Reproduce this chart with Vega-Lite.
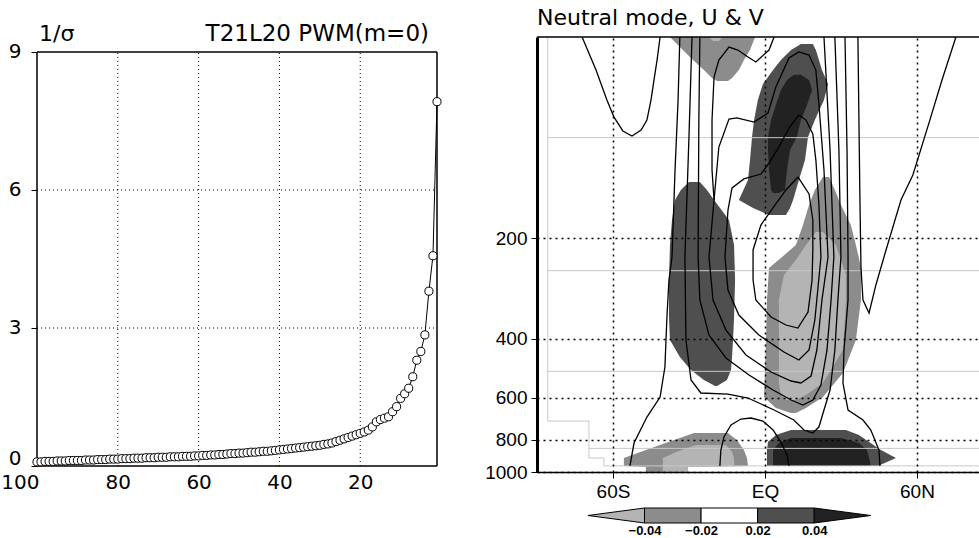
{
"$schema": "https://vega.github.io/schema/vega-lite/v6.json",
"background": "white",
"padding": {"left": 0, "top": 7, "right": 0, "bottom": 0},
"config": {"view": {"stroke": null}, "font": "DejaVu Sans"},
"datasets": {
"sigma": [
{"n":100,"v":0.09},{"n":99,"v":0.09},{"n":98,"v":0.10},{"n":97,"v":0.10},{"n":96,"v":0.10},{"n":95,"v":0.11},{"n":94,"v":0.11},{"n":93,"v":0.11},{"n":92,"v":0.12},{"n":91,"v":0.12},
{"n":90,"v":0.12},{"n":89,"v":0.12},{"n":88,"v":0.13},{"n":87,"v":0.13},{"n":86,"v":0.13},{"n":85,"v":0.14},{"n":84,"v":0.14},{"n":83,"v":0.14},{"n":82,"v":0.15},{"n":81,"v":0.15},
{"n":80,"v":0.15},{"n":79,"v":0.16},{"n":78,"v":0.16},{"n":77,"v":0.16},{"n":76,"v":0.17},{"n":75,"v":0.17},{"n":74,"v":0.17},{"n":73,"v":0.18},{"n":72,"v":0.18},{"n":71,"v":0.18},
{"n":70,"v":0.19},{"n":69,"v":0.19},{"n":68,"v":0.19},{"n":67,"v":0.20},{"n":66,"v":0.20},{"n":65,"v":0.20},{"n":64,"v":0.21},{"n":63,"v":0.21},{"n":62,"v":0.21},{"n":61,"v":0.22},
{"n":60,"v":0.22},{"n":59,"v":0.23},{"n":58,"v":0.23},{"n":57,"v":0.24},{"n":56,"v":0.24},{"n":55,"v":0.25},{"n":54,"v":0.25},{"n":53,"v":0.26},{"n":52,"v":0.27},{"n":51,"v":0.27},
{"n":50,"v":0.28},{"n":49,"v":0.28},{"n":48,"v":0.29},{"n":47,"v":0.30},{"n":46,"v":0.30},{"n":45,"v":0.31},{"n":44,"v":0.32},{"n":43,"v":0.32},{"n":42,"v":0.33},{"n":41,"v":0.34},
{"n":40,"v":0.35},{"n":39,"v":0.36},{"n":38,"v":0.37},{"n":37,"v":0.38},{"n":36,"v":0.39},{"n":35,"v":0.40},{"n":34,"v":0.41},{"n":33,"v":0.42},{"n":32,"v":0.43},{"n":31,"v":0.44},
{"n":30,"v":0.45},{"n":29,"v":0.47},{"n":28,"v":0.48},{"n":27,"v":0.50},{"n":26,"v":0.53},{"n":25,"v":0.56},{"n":24,"v":0.59},{"n":23,"v":0.62},{"n":22,"v":0.65},{"n":21,"v":0.68},
{"n":20,"v":0.71},{"n":19,"v":0.74},{"n":18,"v":0.78},{"n":17,"v":0.85},{"n":16,"v":0.96},{"n":15,"v":1.01},{"n":14,"v":1.04},{"n":13,"v":1.07},{"n":12,"v":1.18},{"n":11,"v":1.29},
{"n":10,"v":1.47},{"n":9,"v":1.57},{"n":8,"v":1.69},{"n":7,"v":1.94},{"n":6,"v":2.30},{"n":5,"v":2.49},{"n":4,"v":2.85},{"n":3,"v":3.80},{"n":2,"v":4.57},{"n":1,"v":7.92}
],
"leftgrid": [
{"n":80,"n2":80,"v":0,"v2":9},{"n":60,"n2":60,"v":0,"v2":9},{"n":40,"n2":40,"v":0,"v2":9},{"n":20,"n2":20,"v":0,"v2":9},
{"n":100,"n2":1,"v":3,"v2":3},{"n":100,"n2":1,"v":6,"v2":6}
],
"leftframe": [
{"n":100,"n2":1,"v":9,"v2":9},{"n":100,"n2":1,"v":0,"v2":0},{"n":100,"n2":100,"v":0,"v2":9},{"n":1,"n2":1,"v":0,"v2":9}
],
"blobs": [
{"blob":"A2","shade":"s2","p":50,"lat":-37.5,"lat2":-3.9},{"blob":"A2","shade":"s2","p":54.7,"lat":-32.4,"lat2":-5.9},{"blob":"A2","shade":"s2","p":58.6,"lat":-28.4,"lat2":-8.3},{"blob":"A2","shade":"s2","p":62.8,"lat":-24.1,"lat2":-10.3},{"blob":"A2","shade":"s2","p":66.3,"lat":-20.9,"lat2":-13.0},{"blob":"A2","shade":"s2","p":67.7,"lat":-18.9,"lat2":-14.6},
{"blob":"A1","shade":"s1","p":50,"lat":-22.1,"lat2":-16.6},{"blob":"A1","shade":"s1","p":51.4,"lat":-20.5,"lat2":-18.2},
{"blob":"B3","shade":"s3","p":52.5,"lat":14.2,"lat2":18.9},{"blob":"B3","shade":"s3","p":54.7,"lat":10.3,"lat2":20.1},{"blob":"B3","shade":"s3","p":58.6,"lat":6.3,"lat2":21.3},{"blob":"B3","shade":"s3","p":62.8,"lat":3.2,"lat2":22.5},{"blob":"B3","shade":"s3","p":69.1,"lat":-0.8,"lat2":24.9},{"blob":"B3","shade":"s3","p":77.2,"lat":-2.8,"lat2":23.3},{"blob":"B3","shade":"s3","p":88.6,"lat":-4.3,"lat2":19.7},{"blob":"B3","shade":"s3","p":99.5,"lat":-5.1,"lat2":17.0},{"blob":"B3","shade":"s3","p":116.7,"lat":-5.9,"lat2":15.8},{"blob":"B3","shade":"s3","p":133.9,"lat":-6.7,"lat2":13.4},{"blob":"B3","shade":"s3","p":153.6,"lat":-10.3,"lat2":11.1},{"blob":"B3","shade":"s3","p":162.3,"lat":-4.7,"lat2":9.9},{"blob":"B3","shade":"s3","p":170.3,"lat":1.6,"lat2":8.3},
{"blob":"C4","shade":"s4","p":64.9,"lat":11.4,"lat2":14.2},{"blob":"C4","shade":"s4","p":67.2,"lat":8.7,"lat2":17.4},{"blob":"C4","shade":"s4","p":72.0,"lat":6.3,"lat2":18.6},{"blob":"C4","shade":"s4","p":79.8,"lat":4.3,"lat2":16.6},{"blob":"C4","shade":"s4","p":88.6,"lat":2.4,"lat2":14.2},{"blob":"C4","shade":"s4","p":99.5,"lat":1.2,"lat2":12.6},{"blob":"C4","shade":"s4","p":108.9,"lat":1.2,"lat2":9.9},{"blob":"C4","shade":"s4","p":125.0,"lat":1.6,"lat2":8.7},{"blob":"C4","shade":"s4","p":143.4,"lat":2.4,"lat2":7.9},{"blob":"C4","shade":"s4","p":146.4,"lat":3.2,"lat2":5.5},
{"blob":"D3","shade":"s3","p":135.7,"lat":-30.0,"lat2":-25.7},{"blob":"D3","shade":"s3","p":143.4,"lat":-33.2,"lat2":-22.9},{"blob":"D3","shade":"s3","p":153.6,"lat":-35.5,"lat2":-20.1},{"blob":"D3","shade":"s3","p":176.3,"lat":-36.7,"lat2":-14.2},{"blob":"D3","shade":"s3","p":209.4,"lat":-37.5,"lat2":-12.2},{"blob":"D3","shade":"s3","p":266.6,"lat":-37.9,"lat2":-11.8},{"blob":"D3","shade":"s3","p":343.9,"lat":-37.9,"lat2":-12.2},{"blob":"D3","shade":"s3","p":402.9,"lat":-37.5,"lat2":-12.6},{"blob":"D3","shade":"s3","p":452.9,"lat":-33.6,"lat2":-13.0},{"blob":"D3","shade":"s3","p":495.4,"lat":-29.2,"lat2":-13.4},{"blob":"D3","shade":"s3","p":530.7,"lat":-24.1,"lat2":-15.0},{"blob":"D3","shade":"s3","p":553.2,"lat":-19.7,"lat2":-18.9},
{"blob":"E2","shade":"s2","p":131.1,"lat":22.9,"lat2":25.3},{"blob":"E2","shade":"s2","p":143.4,"lat":19.7,"lat2":27.6},{"blob":"E2","shade":"s2","p":159.0,"lat":17.4,"lat2":30.0},{"blob":"E2","shade":"s2","p":182.5,"lat":15.0,"lat2":33.9},{"blob":"E2","shade":"s2","p":209.4,"lat":12.2,"lat2":35.9},{"blob":"E2","shade":"s2","p":229.1,"lat":6.3,"lat2":37.1},{"blob":"E2","shade":"s2","p":245.4,"lat":1.6,"lat2":37.9},{"blob":"E2","shade":"s2","p":305.9,"lat":0.8,"lat2":37.9},{"blob":"E2","shade":"s2","p":402.9,"lat":0.4,"lat2":35.9},{"blob":"E2","shade":"s2","p":505.8,"lat":0.0,"lat2":30.8},{"blob":"E2","shade":"s2","p":596.7,"lat":-0.4,"lat2":22.9},{"blob":"E2","shade":"s2","p":643.6,"lat":4.3,"lat2":16.2},{"blob":"E2","shade":"s2","p":666.2,"lat":10.3,"lat2":12.2},
{"blob":"F1","shade":"s1","p":191.5,"lat":20.1,"lat2":22.9},{"blob":"F1","shade":"s1","p":209.4,"lat":16.2,"lat2":28.0},{"blob":"F1","shade":"s1","p":232.2,"lat":12.2,"lat2":30.0},{"blob":"F1","shade":"s1","p":257.5,"lat":7.5,"lat2":32.0},{"blob":"F1","shade":"s1","p":305.9,"lat":5.5,"lat2":32.0},{"blob":"F1","shade":"s1","p":431.5,"lat":5.5,"lat2":30.8},{"blob":"F1","shade":"s1","p":541.8,"lat":5.5,"lat2":22.9},{"blob":"F1","shade":"s1","p":588.5,"lat":6.3,"lat2":16.2},{"blob":"F1","shade":"s1","p":609.1,"lat":8.3,"lat2":12.2},
{"blob":"G2","shade":"s2","p":764.6,"lat":-28.0,"lat2":-14.6},{"blob":"G2","shade":"s2","p":802.3,"lat":-35.9,"lat2":-11.1},{"blob":"G2","shade":"s2","p":859.7,"lat":-47.0,"lat2":-8.3},{"blob":"G2","shade":"s2","p":907.8,"lat":-55.7,"lat2":-7.1},{"blob":"G2","shade":"s2","p":959.2,"lat":-55.7,"lat2":-6.7},{"blob":"G2","shade":"s2","p":965.9,"lat":-47.0,"lat2":-30.4},{"blob":"G2","shade":"s2","p":1000,"lat":-47.0,"lat2":-30.4},
{"blob":"H1","shade":"s1","p":830.5,"lat":-27.2,"lat2":-15.4},{"blob":"H1","shade":"s1","p":871.6,"lat":-35.1,"lat2":-13.0},{"blob":"H1","shade":"s1","p":907.8,"lat":-40.3,"lat2":-12.2},{"blob":"H1","shade":"s1","p":959.2,"lat":-40.3,"lat2":-12.2},{"blob":"H1","shade":"s1","p":965.9,"lat":-40.3,"lat2":-30.4},{"blob":"H1","shade":"s1","p":1000,"lat":-40.3,"lat2":-30.4},
{"blob":"I3","shade":"s3","p":748.9,"lat":10.3,"lat2":32.0},{"blob":"I3","shade":"s3","p":775.2,"lat":4.3,"lat2":37.1},{"blob":"I3","shade":"s3","p":813.5,"lat":1.2,"lat2":41.1},{"blob":"I3","shade":"s3","p":859.7,"lat":0.8,"lat2":45.8},{"blob":"I3","shade":"s3","p":907.8,"lat":0.8,"lat2":51.7},{"blob":"I3","shade":"s3","p":959.2,"lat":0.8,"lat2":44.6},
{"blob":"J4","shade":"s4","p":791.4,"lat":10.3,"lat2":30.0},{"blob":"J4","shade":"s4","p":819.2,"lat":5.5,"lat2":37.1},{"blob":"J4","shade":"s4","p":859.7,"lat":3.2,"lat2":40.3},{"blob":"J4","shade":"s4","p":959.2,"lat":3.2,"lat2":41.8}
],
"contours": [
{"id":"C1L","lat":-33.6,"p":50},{"id":"C1L","lat":-34.3,"p":77.2},{"id":"C1L","lat":-35.5,"p":125},{"id":"C1L","lat":-36.7,"p":227.5},{"id":"C1L","lat":-37.9,"p":266.6},{"id":"C1L","lat":-38.7,"p":343.9},{"id":"C1L","lat":-39.5,"p":485.3},{"id":"C1L","lat":-41.4,"p":596.7},{"id":"C1L","lat":-46.6,"p":684.8},{"id":"C1L","lat":-51.7,"p":819.2},{"id":"C1L","lat":-53.3,"p":959.2},
{"id":"A","lat":-28.8,"p":50},{"id":"A","lat":-30.0,"p":99.5},{"id":"A","lat":-31.6,"p":227.5},{"id":"A","lat":-31.2,"p":402.9},{"id":"A","lat":-29.2,"p":530.7},{"id":"A","lat":-25.3,"p":580.4},{"id":"A","lat":-14.6,"p":584.5},{"id":"A","lat":-6.7,"p":600.8},{"id":"A","lat":3.6,"p":652.6},{"id":"A","lat":11.4,"p":699.1},{"id":"A","lat":15.4,"p":748.9},{"id":"A","lat":18.9,"p":764.6},{"id":"A","lat":21.3,"p":733.7},{"id":"A","lat":23.3,"p":652.6},{"id":"A","lat":25.7,"p":568.6},{"id":"A","lat":27.6,"p":431.5},{"id":"A","lat":28.8,"p":305.9},{"id":"A","lat":30.0,"p":227.5},{"id":"A","lat":29.2,"p":108.9},{"id":"A","lat":27.6,"p":50},
{"id":"D","lat":-25.7,"p":50},{"id":"D","lat":-26.1,"p":88.6},{"id":"D","lat":-26.4,"p":227.5},{"id":"D","lat":-25.7,"p":305.9},{"id":"D","lat":-22.1,"p":389.4},{"id":"D","lat":-15.4,"p":456.1},{"id":"D","lat":-6.3,"p":512.8},{"id":"D","lat":3.2,"p":568.6},{"id":"D","lat":10.3,"p":609.1},{"id":"D","lat":15.0,"p":630.5},{"id":"D","lat":18.9,"p":609.1},{"id":"D","lat":22.1,"p":549.4},{"id":"D","lat":24.5,"p":431.5},{"id":"D","lat":26.1,"p":305.9},{"id":"D","lat":27.2,"p":227.5},{"id":"D","lat":25.7,"p":108.9},{"id":"D","lat":23.3,"p":50},
{"id":"E","lat":13.4,"p":55.4},{"id":"E","lat":9.5,"p":57.8},{"id":"E","lat":4.3,"p":70.6},{"id":"E","lat":1.2,"p":84.4},{"id":"E","lat":-4.3,"p":89.8},{"id":"E","lat":-11.1,"p":87.3},{"id":"E","lat":-14.2,"p":88.0},{"id":"E","lat":-18.2,"p":106.7},{"id":"E","lat":-20.1,"p":153.6},{"id":"E","lat":-22.1,"p":227.5},{"id":"E","lat":-20.5,"p":305.9},{"id":"E","lat":-15.4,"p":376.2},{"id":"E","lat":-7.5,"p":446.7},{"id":"E","lat":2.4,"p":502.3},{"id":"E","lat":10.3,"p":534.4},{"id":"E","lat":14.2,"p":541.8},{"id":"E","lat":18.2,"p":516.3},{"id":"E","lat":20.5,"p":431.5},{"id":"E","lat":22.5,"p":305.9},{"id":"E","lat":24.9,"p":227.5},{"id":"E","lat":23.3,"p":125.0},{"id":"E","lat":21.3,"p":79.3},{"id":"E","lat":20.1,"p":62.8},{"id":"E","lat":17.4,"p":56.6},{"id":"E","lat":13.4,"p":55.4},
{"id":"W","lat":3.6,"p":50},{"id":"W","lat":1.6,"p":54.7},{"id":"W","lat":-3.6,"p":59.4},{"id":"W","lat":-6.7,"p":57.4},{"id":"W","lat":-10.7,"p":54.7},{"id":"W","lat":-14.2,"p":53.6},{"id":"W","lat":-18.2,"p":58.6},{"id":"W","lat":-20.1,"p":65.9},{"id":"W","lat":-20.9,"p":88.6},{"id":"W","lat":-20.9,"p":125.0},{"id":"W","lat":-20.1,"p":153.6},
{"id":"F","lat":13.4,"p":85.5},{"id":"F","lat":9.5,"p":93.6},{"id":"F","lat":5.5,"p":106.7},{"id":"F","lat":1.6,"p":119.1},{"id":"F","lat":-1.6,"p":128.5},{"id":"F","lat":-8.3,"p":132.9},{"id":"F","lat":-13.0,"p":141.4},{"id":"F","lat":-14.6,"p":164.6},{"id":"F","lat":-15.8,"p":227.5},{"id":"F","lat":-14.6,"p":285.6},{"id":"F","lat":-10.3,"p":339.2},{"id":"F","lat":-2.4,"p":389.4},{"id":"F","lat":7.5,"p":437.5},{"id":"F","lat":13.4,"p":462.4},{"id":"F","lat":17.4,"p":431.5},{"id":"F","lat":19.7,"p":351.1},{"id":"F","lat":22.1,"p":227.5},{"id":"F","lat":21.3,"p":157.9},{"id":"F","lat":20.1,"p":116.7},{"id":"F","lat":18.9,"p":97.5},{"id":"F","lat":16.2,"p":88.6},{"id":"F","lat":13.4,"p":85.5},
{"id":"G","lat":13.0,"p":131.1},{"id":"G","lat":8.3,"p":143.4},{"id":"G","lat":4.3,"p":157.9},{"id":"G","lat":-1.6,"p":182.5},{"id":"G","lat":-4.7,"p":216.7},{"id":"G","lat":-4.7,"p":266.6},{"id":"G","lat":-3.6,"p":305.9},{"id":"G","lat":2.4,"p":343.9},{"id":"G","lat":8.3,"p":363.4},{"id":"G","lat":13.0,"p":371.0},{"id":"G","lat":17.0,"p":332.3},{"id":"G","lat":18.6,"p":266.6},{"id":"G","lat":18.9,"p":216.7},{"id":"G","lat":18.9,"p":176.3},{"id":"G","lat":17.4,"p":147.4},{"id":"G","lat":13.0,"p":131.1},
{"id":"C1R","lat":45.4,"p":959.2},{"id":"C1R","lat":45.0,"p":859.7},{"id":"C1R","lat":41.8,"p":748.9},{"id":"C1R","lat":38.7,"p":699.1},{"id":"C1R","lat":32.8,"p":652.6},{"id":"C1R","lat":30.8,"p":541.8},{"id":"C1R","lat":31.2,"p":431.5},{"id":"C1R","lat":32.8,"p":305.9},{"id":"C1R","lat":32.8,"p":227.5},{"id":"C1R","lat":32.4,"p":108.9},{"id":"C1R","lat":31.6,"p":50},
{"id":"V","lat":75.4,"p":50},{"id":"V","lat":69.9,"p":67.2},{"id":"V","lat":65.1,"p":88.6},{"id":"V","lat":58.4,"p":129.3},{"id":"V","lat":53.7,"p":153.6},{"id":"V","lat":47.8,"p":216.7},{"id":"V","lat":43.8,"p":275.8},{"id":"V","lat":41.1,"p":334.6},{"id":"V","lat":38.7,"p":305.9},{"id":"V","lat":37.9,"p":243.7},{"id":"V","lat":37.5,"p":153.6},{"id":"V","lat":37.1,"p":88.6},{"id":"V","lat":36.7,"p":50},
{"id":"Arch","lat":-17.8,"p":959.2},{"id":"Arch","lat":-17.4,"p":859.7},{"id":"Arch","lat":-16.2,"p":785.9},{"id":"Arch","lat":-13.4,"p":723.6},{"id":"Arch","lat":-9.5,"p":694.3},{"id":"Arch","lat":-5.5,"p":689.5},{"id":"Arch","lat":-0.8,"p":704.0},{"id":"Arch","lat":3.2,"p":748.9},{"id":"Arch","lat":6.3,"p":813.5},{"id":"Arch","lat":8.7,"p":889.2},{"id":"Arch","lat":9.5,"p":959.2},
{"id":"L1","lat":-72.2,"p":50},{"id":"L1","lat":-66.7,"p":62.8},{"id":"L1","lat":-62.4,"p":77.2},{"id":"L1","lat":-59.6,"p":86.8},{"id":"L1","lat":-56.1,"p":95.5},{"id":"L1","lat":-52.5,"p":98.9},{"id":"L1","lat":-48.9,"p":94.9},{"id":"L1","lat":-46.6,"p":88.6},{"id":"L1","lat":-45.0,"p":77.2},{"id":"L1","lat":-43.8,"p":67.2},{"id":"L1","lat":-42.6,"p":58.6},{"id":"L1","lat":-41.4,"p":50}
],
"graylines": [
{"lat":-85.76,"lat2":84.9,"p":100},{"lat":-85.76,"lat2":84.9,"p":250},{"lat":-85.76,"lat2":84.9,"p":500},{"lat":-69.5,"lat2":84.9,"p":850}
],
"topo": [
{"lat":-85.76,"p":50},{"lat":-85.76,"p":704},{"lat":-69.5,"p":704},{"lat":-69.5,"p":908},{"lat":-63.6,"p":908},{"lat":-63.6,"p":959},{"lat":84.9,"p":959}
],
"cbar_rect": [
{"u":1,"u2":2,"shade":"s2"},{"u":2,"u2":3,"shade":"s0"},{"u":3,"u2":4,"shade":"s3"}
],
"cbar_tri": [
{"u":0,"lo":0.5,"hi":0.5,"shade":"s1"},{"u":1,"lo":0,"hi":1,"shade":"s1"},{"u":4,"lo":0,"hi":1,"shade":"s4"},{"u":5,"lo":0.5,"hi":0.5,"shade":"s4"}
]
},
"bounds": "flush",
"spacing": 100,
"hconcat": [
{
"width": 400, "height": 429,
"layer": [
{"data": {"name": "leftgrid"},
 "mark": {"type": "rule", "color": "black", "strokeWidth": 1, "strokeDash": [1, 3]},
 "encoding": {
  "x": {"field": "n", "type": "quantitative", "scale": {"domain": [100, 1], "nice": false, "zero": false},
        "axis": {"values": [100, 80, 60, 40, 20], "title": null, "grid": false, "domain": false, "ticks": false,
                 "labelFontSize": 20, "labelFont": "DejaVu Sans", "labelColor": "black", "labelPadding": 6,
                 "labelAlign": {"condition": {"test": "datum.value == 100", "value": "right"}, "value": "center"},
                 "labelOffset": {"condition": {"test": "datum.value == 100", "value": 2}, "value": 0}}},
  "x2": {"field": "n2"},
  "y": {"field": "v", "type": "quantitative", "scale": {"domain": [0, 9.326], "nice": false, "zero": false},
        "axis": {"values": [0, 3, 6, 9], "title": null, "grid": false, "domain": false, "ticks": true, "tickSize": 6, "tickColor": "black",
                 "labelFontSize": 20, "labelFont": "DejaVu Sans", "labelColor": "black", "labelPadding": 10,
                 "labelBaseline": {"condition": {"test": "datum.value == 0", "value": "bottom"}, "value": "middle"},
                 "labelOffset": {"condition": {"test": "datum.value == 0", "value": 2}, "value": 0}}},
  "y2": {"field": "v2"}
 }},
{"data": {"name": "leftframe"},
 "mark": {"type": "rule", "color": "black", "strokeWidth": 1.5},
 "encoding": {"x": {"field": "n", "type": "quantitative"}, "x2": {"field": "n2"}, "y": {"field": "v", "type": "quantitative"}, "y2": {"field": "v2"}}},
{"data": {"name": "sigma"},
 "mark": {"type": "line", "color": "black", "strokeWidth": 1},
 "encoding": {"x": {"field": "n", "type": "quantitative"}, "y": {"field": "v", "type": "quantitative"}}},
{"data": {"name": "sigma"},
 "mark": {"type": "point", "shape": "circle", "filled": true, "fill": "white", "stroke": "black", "strokeWidth": 1, "size": 66, "opacity": 1},
 "encoding": {"x": {"field": "n", "type": "quantitative"}, "y": {"field": "v", "type": "quantitative"}}},
{"data": {"values": [{"label": "1/σ", "n": 100, "v": 9}]},
 "mark": {"type": "text", "align": "left", "baseline": "bottom", "dx": 2, "dy": -6, "fontSize": 22, "font": "DejaVu Sans", "color": "black"},
 "encoding": {"x": {"field": "n", "type": "quantitative"}, "y": {"field": "v", "type": "quantitative"}, "text": {"field": "label"}}},
{"data": {"values": [{"label": "T21L20 PWM(m=0)", "n": 1, "v": 9}]},
 "mark": {"type": "text", "align": "right", "baseline": "bottom", "dx": -8, "dy": -6, "fontSize": 23, "font": "DejaVu Sans", "color": "black"},
 "encoding": {"x": {"field": "n", "type": "quantitative"}, "y": {"field": "v", "type": "quantitative"}, "text": {"field": "label"}}}
]
},
{
"bounds": "flush",
"spacing": 36,
"vconcat": [
{
"width": 443, "height": 435,
"title": {"text": "Neutral mode, U & V", "anchor": "start", "frame": "group", "fontSize": 22, "fontWeight": "normal", "font": "DejaVu Sans", "color": "black", "offset": 4},
"encoding": {
 "x": {"field": "lat", "type": "quantitative", "scale": {"domain": [-90, 84.9], "nice": false, "zero": false},
       "axis": {"values": [-60, 0, 60], "labelExpr": "datum.value < 0 ? (-datum.value) + 'S' : (datum.value > 0 ? datum.value + 'N' : 'EQ')",
                "title": null, "grid": true, "gridColor": "black", "gridDash": [2, 4], "gridWidth": 1.5, "gridOpacity": 1,
                "domainColor": "black", "domainWidth": 1.5, "tickColor": "black", "tickSize": 6,
                "labelFontSize": 19, "labelFont": "Liberation Sans", "labelColor": "black", "labelPadding": 4, "zindex": 1}},
 "y": {"field": "p", "type": "quantitative", "scale": {"type": "log", "domain": [50, 1000], "reverse": true, "nice": false},
       "axis": {"values": [200, 400, 600, 800, 1000], "format": "d", "title": null, "grid": true, "gridColor": "black", "gridDash": [2, 4], "gridWidth": 1.5, "gridOpacity": 1,
                "domainColor": "black", "domainWidth": 3, "tickColor": "black", "tickSize": 6,
                "labelFontSize": 19, "labelFont": "Liberation Sans", "labelColor": "black", "labelPadding": 4, "zindex": 1}}
},
"layer": [
{"data": {"name": "blobs"}, "transform": [{"filter": "datum.shade == 's2'"}],
 "mark": {"type": "area", "orient": "horizontal"},
 "encoding": {"x2": {"field": "lat2"}, "detail": {"field": "blob"},
  "fill": {"field": "shade", "type": "nominal", "scale": {"domain": ["s1", "s2", "s0", "s3", "s4"], "range": ["#b4b4b4", "#8c8c8c", "#ffffff", "#4f4f4f", "#222222"]}, "legend": null}}},
{"data": {"name": "blobs"}, "transform": [{"filter": "datum.shade == 's1'"}],
 "mark": {"type": "area", "orient": "horizontal"},
 "encoding": {"x2": {"field": "lat2"}, "detail": {"field": "blob"},
  "fill": {"field": "shade", "type": "nominal", "scale": {"domain": ["s1", "s2", "s0", "s3", "s4"], "range": ["#b4b4b4", "#8c8c8c", "#ffffff", "#4f4f4f", "#222222"]}, "legend": null}}},
{"data": {"name": "blobs"}, "transform": [{"filter": "datum.shade == 's3'"}],
 "mark": {"type": "area", "orient": "horizontal"},
 "encoding": {"x2": {"field": "lat2"}, "detail": {"field": "blob"},
  "fill": {"field": "shade", "type": "nominal", "scale": {"domain": ["s1", "s2", "s0", "s3", "s4"], "range": ["#b4b4b4", "#8c8c8c", "#ffffff", "#4f4f4f", "#222222"]}, "legend": null}}},
{"data": {"name": "blobs"}, "transform": [{"filter": "datum.shade == 's4'"}],
 "mark": {"type": "area", "orient": "horizontal"},
 "encoding": {"x2": {"field": "lat2"}, "detail": {"field": "blob"},
  "fill": {"field": "shade", "type": "nominal", "scale": {"domain": ["s1", "s2", "s0", "s3", "s4"], "range": ["#b4b4b4", "#8c8c8c", "#ffffff", "#4f4f4f", "#222222"]}, "legend": null}}},
{"data": {"name": "graylines"},
 "mark": {"type": "rule", "color": "#c8c8c8", "strokeWidth": 1},
 "encoding": {"x2": {"field": "lat2"}}},
{"data": {"name": "topo"},
 "mark": {"type": "line", "color": "#c8c8c8", "strokeWidth": 1},
 "encoding": {"order": {"value": null}}},
{"data": {"name": "contours"},
 "mark": {"type": "line", "color": "black", "strokeWidth": 1.3},
 "encoding": {"detail": {"field": "id"}, "order": {"value": null}}},
{"data": {"values": [{"lat": -90, "lat2": 84.9, "p": 50}]},
 "mark": {"type": "rule", "color": "black", "strokeWidth": 1.5},
 "encoding": {"x2": {"field": "lat2"}}}
]
},
{
"width": 443, "height": 15,
"layer": [
{"data": {"name": "cbar_rect"},
 "mark": {"type": "rect", "stroke": "black", "strokeWidth": 1},
 "encoding": {
  "x": {"field": "u", "type": "quantitative", "scale": {"domain": [-0.9, 6.93], "nice": false, "zero": false},
        "axis": {"values": [1, 2, 3, 4], "labelExpr": "datum.value == 1 ? '−0.04' : (datum.value == 2 ? '−0.02' : (datum.value == 3 ? '0.02' : '0.04'))",
                 "title": null, "domain": false, "ticks": false, "grid": false, "labelFontSize": 13, "labelFontWeight": "bold", "labelFont": "Liberation Sans", "labelColor": "black", "labelPadding": 1}},
  "x2": {"field": "u2"},
  "y": {"datum": 0, "type": "quantitative", "scale": {"domain": [0, 1], "nice": false, "zero": false}, "axis": null},
  "y2": {"datum": 1},
  "fill": {"field": "shade", "type": "nominal", "scale": {"domain": ["s1", "s2", "s0", "s3", "s4"], "range": ["#b4b4b4", "#8c8c8c", "#ffffff", "#4f4f4f", "#222222"]}, "legend": null}
 }},
{"data": {"name": "cbar_tri"},
 "mark": {"type": "area", "stroke": "black", "strokeWidth": 1},
 "encoding": {
  "x": {"field": "u", "type": "quantitative"},
  "y": {"field": "lo", "type": "quantitative"},
  "y2": {"field": "hi"},
  "detail": {"field": "shade"},
  "fill": {"field": "shade", "type": "nominal", "scale": {"domain": ["s1", "s2", "s0", "s3", "s4"], "range": ["#b4b4b4", "#8c8c8c", "#ffffff", "#4f4f4f", "#222222"]}, "legend": null}
 }}
]
}
]
}
]
}
